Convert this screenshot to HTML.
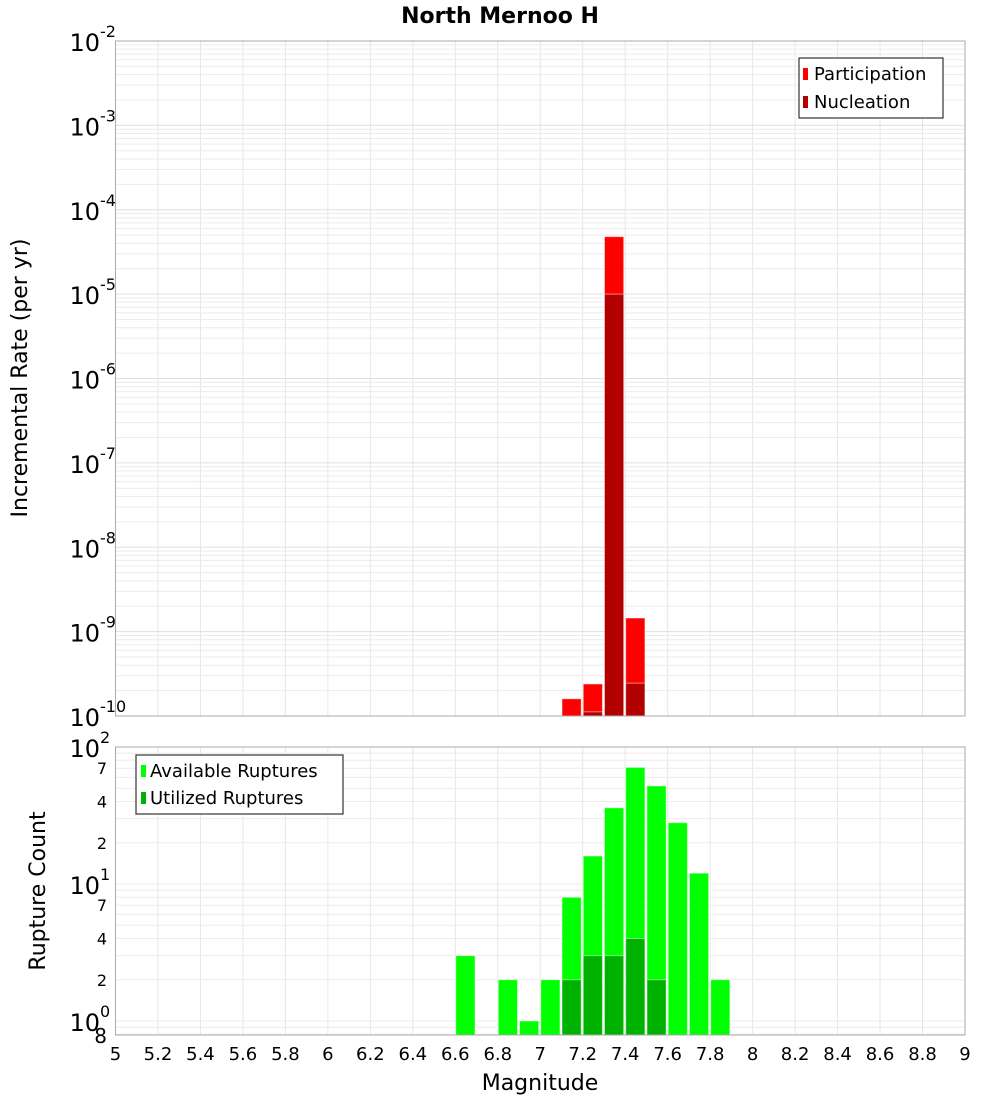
<!DOCTYPE html>
<html><head><meta charset="utf-8"><style>
body{margin:0;background:#fff;}
svg text{font-family:"DejaVu Sans","Liberation Sans",sans-serif;}
</style></head><body>
<svg id="c" width="1000" height="1100" xmlns="http://www.w3.org/2000/svg">
<text x="500" y="23" text-anchor="middle" font-size="22" font-weight="bold">North Mernoo H</text>
<text transform="translate(27,378) rotate(-90)" text-anchor="middle" font-size="22">Incremental Rate (per yr)</text>
<text transform="translate(45,891) rotate(-90)" text-anchor="middle" font-size="22">Rupture Count</text>
<text x="540" y="1090" text-anchor="middle" font-size="22">Magnitude</text>
<g id="grid"></g><g id="bars"></g><g id="axes"></g>
<g>
<rect x="799" y="58" width="144" height="60" fill="#fff" stroke="#333" stroke-width="1.2"/>
<rect x="803" y="68" width="5" height="12" fill="#ff0000"/>
<text x="814" y="80" font-size="18">Participation</text>
<rect x="803" y="96" width="5" height="12" fill="#b20000"/>
<text x="814" y="108" font-size="18">Nucleation</text>
</g>
<g>
<rect x="136" y="755" width="207" height="59" fill="#fff" stroke="#333" stroke-width="1.2"/>
<rect x="141" y="765" width="5" height="12" fill="#00ff00"/>
<text x="150" y="777" font-size="18">Available Ruptures</text>
<rect x="141" y="792" width="5" height="12" fill="#00b200"/>
<text x="150" y="804" font-size="18">Utilized Ruptures</text>
</g>
</svg>
<script>
const mags=[6.65,6.85,6.95,7.05,7.15,7.25,7.35,7.45,7.55,7.65,7.75,7.85];
const available=[3,2,1,2,8,16,36,71,52,28,12,2];
const utilMags=[7.15,7.25,7.35,7.45,7.55];
const utilized=[2,3,3,4,2];
const rateMags=[7.15,7.25,7.35,7.45];
const participation=[1.6e-10,2.4e-10,4.8e-5,1.45e-9];
const nucleation=[0,1.12e-10,1.0e-5,2.45e-10];
const xTicks=[5,5.2,5.4,5.6,5.8,6,6.2,6.4,6.6,6.8,7,7.2,7.4,7.6,7.8,8,8.2,8.4,8.6,8.8,9];
const topExps=[-2,-3,-4,-5,-6,-7,-8,-9,-10];
const botMinor=[7,4,2];

const NS="http://www.w3.org/2000/svg";
const L=115.5,R=965,T1=41,B1=716,T2=747,B2=1035;
const x=m=>L+(m-5)*(R-L)/4;
const y1=v=>T1+(-2-Math.log10(v))*(B1-T1)/8;
const y2=v=>Math.min(B2,T2+(2-Math.log10(v))*137);
function mk(p,t,a){const e=document.createElementNS(NS,t);for(const k in a)e.setAttribute(k,a[k]);document.getElementById(p).appendChild(e);return e;}
// grids
for(const t of xTicks){
 const g1=mk('grid','line',{x1:x(t),x2:x(t),y1:T1,y2:B1,stroke:'#e6e6e6'});
 
 
 const g2=mk('grid','line',{x1:x(t),x2:x(t),y1:T2,y2:B2,stroke:'#e6e6e6'});
 
 
}
for(let e=-10;e<-2;e++)for(let k=1;k<10;k++){const yy=y1(k*Math.pow(10,e));
 const g=mk('grid','line',{x1:L,x2:R,y1:yy,y2:yy,stroke:k==1?'#e0e0e0':'#ececec'});
 
 }
for(let e=-1;e<2;e++)for(let k=1;k<10;k++){const v=k*Math.pow(10,e);const yy=y2(v);if(yy>=B2||yy<T2)continue;
 const g=mk('grid','line',{x1:L,x2:R,y1:yy,y2:yy,stroke:'#ececec'});
 
 }
// bars
const bw=(R-L)/40;
function bar(m,top,bot,fill,name){const r=mk('bars','rect',{x:x(m)-bw/2+0.5,y:top,width:bw-2,height:Math.max(0,bot-top),fill:fill,stroke:'rgba(255,255,255,0.5)','stroke-width':1});
 
 }
rateMags.forEach((m,i)=>bar(m,y1(participation[i]),B1,'#ff0000','participation-bar'));
rateMags.forEach((m,i)=>{if(nucleation[i]>0)bar(m,y1(nucleation[i]),B1,'#b20000','nucleation-bar');});
mags.forEach((m,i)=>bar(m,y2(available[i]),B2,'#00ff00','available-ruptures-bar'));
utilMags.forEach((m,i)=>bar(m,y2(utilized[i]),B2,'#00b200','utilized-ruptures-bar'));
// axes frames
mk('axes','rect',{x:L,y:T1,width:R-L,height:B1-T1,fill:'none',stroke:'#aaa'});
mk('axes','rect',{x:L,y:T2,width:R-L,height:B2-T2,fill:'none',stroke:'#aaa'});
// x tick labels
for(const t of xTicks){const tx=mk('axes','text',{x:x(t),y:1060,'text-anchor':'middle','font-size':18});
 tx.textContent=String(t);
 
 }
// top y labels
for(const e of topExps){const yy=y1(Math.pow(10,e));
 const tx=mk('axes','text',{x:100,y:yy+10,'text-anchor':'end','font-size':24});tx.textContent='10';
 
 
 const s=mk('axes','text',{x:100,y:yy-4,'font-size':16});s.textContent=String(e);
 
 }
// bottom y labels
[2,1,0].forEach(e=>{const yy=y2(Math.pow(10,e));
 const tx=mk('axes','text',{x:100,y:yy+10,'text-anchor':'end','font-size':24});tx.textContent='10';
 
 
 const s=mk('axes','text',{x:100,y:yy-4,'font-size':16});s.textContent=String(e);
 
 
 if(e>0)botMinor.forEach(k=>{const v=k*Math.pow(10,e-1);const t=mk('axes','text',{x:107,y:y2(v)+6,'text-anchor':'end','font-size':16});t.textContent=String(k);
  
  });
});
const e8=mk('axes','text',{x:107,y:B2+8,'text-anchor':'end','font-size':20});e8.textContent='8';


</script>
</body></html>
